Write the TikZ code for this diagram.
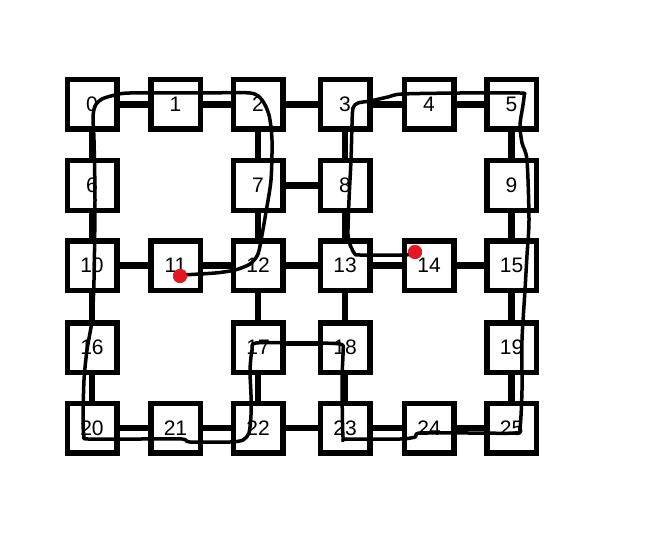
\documentclass[tikz,border=0pt]{standalone}
\usepackage{fontspec}
\setmainfont{Liberation Sans}
\usetikzlibrary{backgrounds}
\definecolor{dotred}{RGB}{226,24,36}
\tikzset{
  cell/.style={draw=black, fill=white, line width=5.5pt, minimum size=49.5pt, inner sep=0pt, font=\fontsize{21}{21}\selectfont},
  edge/.style={draw=black, line width=6.5pt},
  route/.style={draw=black, line width=3.5pt, line cap=round, line join=round},
  reddot/.style={circle, fill=dotred, inner sep=0pt, minimum size=14pt}
}
\begin{document}
\begin{tikzpicture}[x=1pt,y=-1pt]
\useasboundingbox (0,0) rectangle (655,540);
% columns: 92, 175.5, 258, 345, 429, 511.5 ; rows: 104.5, 185.5, 265.5, 347.5, 428
\foreach \n/\x in {0/92,1/175.5,2/258,3/345,4/429,5/511.5}
  \node[cell] (n\n) at (\x,104.5) {\n};
\node[cell] (n6) at (92,185.5) {6};
\node[cell] (n7) at (258,185.5) {7};
\node[cell] (n8) at (345,185.5) {8};
\node[cell] (n9) at (511.5,185.5) {9};
\foreach \n/\x in {10/92,11/175.5,12/258,13/345,14/429,15/511.5}
  \node[cell] (n\n) at (\x,265.5) {\n};
\node[cell] (n16) at (92,347.5) {16};
\node[cell] (n17) at (258,347.5) {17};
\node[cell] (n18) at (345,347.5) {18};
\node[cell] (n19) at (511.5,347.5) {19};
\foreach \n/\x in {20/92,21/175.5,22/258,23/345,24/429,25/511.5}
  \node[cell] (n\n) at (\x,428) {\n};
\begin{scope}[on background layer]
  \foreach \a/\b in {0/1,1/2,2/3,3/4,4/5,10/11,11/12,12/13,13/14,14/15,20/21,21/22,22/23,23/24,24/25,
                     0/6,6/10,10/16,16/20,2/7,7/12,12/17,17/22,3/8,8/13,13/18,18/23,5/9,9/15,15/19,19/25,7/8}
    \draw[edge] (n\a) -- (n\b);
  \draw[edge, line width=5pt] ([yshift=4pt]n17.east) -- ([yshift=4pt]n18.west);
\end{scope}
% hand-drawn route
\node[reddot] (startdot) at (180,276) {};
\node[reddot] (enddot) at (415,252) {};
\draw[route] plot[smooth, tension=0.45] coordinates {
(182,275) (215,273) (235,270) (250,264) (258,254) (262,235) (266,212) (271,180) (272,140) (269,115) (262,100) (250,93)
(200,93) (130,93) (115,95) (102,99) (95,106) (93,118) (94,140) (95,200) (94,280) (92,320) (87,350) (84,380) (83,420)
(84,436) (88,439) (140,439) (182,439) (190,442) (230,442) (243,440) (249,433) (251,415) (251,395) (250,370) (252,350)
(256,343) (300,343) (340,344) (343,352) (342,380) (343,437) (347,439) (400,439) (415,437) (420,433) (470,433) (515,433)
(520,428) (522,390) (522,340) (525,290) (527,255) (529,220) (527,160) (522,143) (520,125) (523,105) (524,95) (520,93)
(460,93) (402,94) (388,97) (370,101) (358,103) (353,108) (352,125) (351,160) (349,200) (348,235) (351,247) (355,254)
(360,255) (405,255) (414,253)};
\node[reddot] at (startdot) {};
\node[reddot] at (enddot) {};
\end{tikzpicture}
\end{document}
